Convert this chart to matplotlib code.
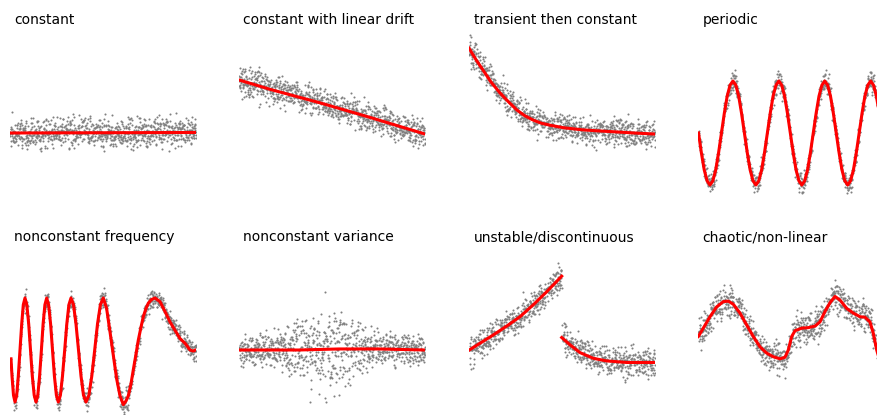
import matplotlib.pyplot as plt
import numpy as np

titles = ["constant", "constant with linear drift", "transient then constant", "periodic",
          "nonconstant frequency", "nonconstant variance", "unstable/discontinuous",
          "chaotic/non-linear"]

# smoothed trend lines (time 0..186, value in units)
const_t = [0, 186]
const_y = [0.0, 0.01]

drift_t = [0, 31, 81, 131, 186]
drift_y = [1.02, 0.84, 0.58, 0.30, -0.02]

trans_t = [0, 7, 14, 22, 31, 40, 48, 56, 64, 72, 81, 95, 114, 130, 148, 165, 186]
trans_y = [1.63, 1.41, 1.21, 0.98, 0.77, 0.59, 0.44, 0.33, 0.25, 0.19, 0.15, 0.10,
           0.06, 0.04, 0.02, 0.0, -0.02]

periodic_y = [0, -0.38, -0.71, -0.92, -1, -0.92, -0.71, -0.38, 0, 0.38, 0.71, 0.92, 1, 0.92, 0.71, 0.38,
              0, -0.38, -0.71, -0.92, -1, -0.92, -0.71, -0.38, 0, 0.38, 0.71, 0.92, 1, 0.92, 0.71, 0.38,
              0, -0.38, -0.71, -0.92, -1, -0.92, -0.71, -0.38, 0, 0.38, 0.71, 0.92, 1, 0.92, 0.71, 0.38,
              0, -0.38, -0.71, -0.92, -1, -0.92, -0.71, -0.38, 0, 0.38, 0.71, 0.92, 1, 0.92, 0.71, 0.38,
              0, -0.38]
periodic_t = np.linspace(0.5, 187, len(periodic_y))

freq_t = [1, 2, 3.5, 5, 6.7, 8.3, 10, 11.7, 13.3, 15, 16.8, 18.7, 20.5, 22.3, 24.2, 26,
          27.8, 29.6, 31.4, 33.1, 34.9, 36.7, 38.6, 40.6, 42.5, 44.4, 46.4, 48.3,
          50.4, 52.5, 54.7, 56.8, 58.9, 61, 63.5, 66, 68.5, 71, 73.5, 76,
          78.9, 81.8, 84.7, 87.5, 90.4, 93.3, 96.6, 100, 103.3, 106.6, 110, 113.3,
          116, 118.3, 121, 123.3, 126, 128.3, 131, 133.3, 136, 138.3, 141.5, 145,
          150, 155, 160, 165, 170, 175, 180, 183.3, 186.7]
freq_y = [-0.17, -0.5, -0.87, -1, -0.87, -0.5, 0, 0.5, 0.87, 1, 0.87, 0.5, 0, -0.5, -0.87, -1,
          -0.87, -0.5, 0, 0.5, 0.87, 1, 0.87, 0.5, 0, -0.5, -0.87, -1,
          -0.87, -0.5, 0, 0.5, 0.87, 1, 0.87, 0.5, 0, -0.5, -0.87, -1,
          -0.87, -0.5, 0, 0.5, 0.87, 1, 0.8, 0.35, -0.1, -0.55, -0.88, -1.05,
          -0.98, -0.88, -0.65, -0.38, -0.08, 0.19, 0.44, 0.64, 0.8, 0.9, 0.97, 1.0,
          0.93, 0.74, 0.54, 0.38, 0.22, 0.13, 0.0, -0.02, 0.01]

var_t = [0, 60, 100, 140, 186]
var_y = [0.0, 0.0, 0.02, 0.02, 0.0]
var_spread_t = [0, 40, 60, 80, 100, 120, 140, 186]
var_spread = [1.0, 1.2, 2.2, 3.2, 3.0, 2.0, 1.2, 1.0]

unst1_t = [0.3, 11, 24.3, 37.7, 51, 64.3, 77.7, 92.7]
unst1_y = [0.0, 0.13, 0.29, 0.46, 0.64, 0.87, 1.12, 1.42]
unst2_t = [92.7, 101, 111, 124.3, 137.7, 157.7, 186]
unst2_y = [0.24, 0.1, -0.05, -0.16, -0.21, -0.24, -0.24]

chaos_t = [0.3, 5.3, 12, 18.7, 25.3, 30.3, 35.3, 42, 48.7, 55.3, 62, 68.7, 75.3, 82, 87,
           90.3, 93.7, 97, 103.7, 110.3, 117, 122, 127, 132, 137, 142, 148.7, 155.3,
           162, 167, 172, 175.3, 178.7, 182]
chaos_y = [0.26, 0.42, 0.64, 0.83, 0.93, 0.94, 0.88, 0.71, 0.48, 0.26, 0.06, -0.06, -0.13,
           -0.17, -0.14, 0.0, 0.26, 0.37, 0.42, 0.43, 0.46, 0.54, 0.74, 0.91, 1.03, 0.96,
           0.8, 0.71, 0.64, 0.63, 0.54, 0.32, 0.0, -0.22]

# scatter of the observations around the trend (tenths of one spread)
resid = [
    3, -8, 12, -2, 7, -15, 1, 9, -4, 18, -11, 0, 6, -7, 14, -3, -19, 8, 2, -10,
    11, -1, 5, -13, 16, -6, 4, -9, 21, -2, -12, 7, 0, 13, -5, -17, 10, 3, -8, 6,
    -14, 9, 1, -3, 15, -20, 4, 12, -7, 2, -11, 8, -1, 17, -6, 5, -9, 24, -4, 0,
    10, -16, 3, 7, -2, -13, 19, -8, 1, 11, -5, 6, -22, 9, -1, 14, -10, 2, -4, 16,
    -7, 5, 12, -15, 0, 8, -3, -18, 13, 4, -9, 1, 20, -6, 7, -12, 3, -2, 10, -14,
    6, -5, 15, -8, 2, -1, 11, -19, 9, 4, -10, 0, 17, -3, -7, 13, 5, -16, 8, -4,
    1, 12, -9, 23, -6, 3, -13, 7, -2, 18, -11, 0, 9, -5, 14, -21, 4, 6, -8, 10,
    -1, -15, 11, 2, -6, 16, -12, 5, -3, 8, -17, 13, 0, -9, 7, 3, -4, 19, -10, 1,
    12, -7, 4, -14, 9, -2, 15, -11, 6, 0, -18, 10, -5, 2, 20, -8, 7, -13, 3, -1,
    11, -6, 16, -3, -10, 5, 8, -20, 13, 1, -7, 14, -4, 9, -12, 2, 17, -9, 0, 6,
    -15, 4, 10, -2, 22, -11, 3, -6, 12, -16, 7, 1, -8, 15, -3, -13, 9, 5, -1, 18,
    -10, 6, -4, 11, -19, 2, 14, -7, 0, 8, -12, 16, -5, 3, -9, 10, -2, -17, 13, 4,
    -6, 21, -14, 7, 1, -3, 12, -8, 5, -11, 9, -1, 15, -18, 2, 6, -10, 11, -4, 0,
    17, -7, 3, -15, 8, -2, 13, -9, 4, 10, -13, 1, -5, 19, -12, 6, -3, 14, -8, 7,
    -1, -16, 11, 2, -6, 9, -20, 5, 16, -4, 0, 12, -11, 3, -7, 8, -14, 10, -2, 4,
]
spread = [0.13, 0.13, 0.12, 0.09, 0.09, 0.12, 0.12, 0.13]
# reading orders of the residual list used by each panel
strides = [(187, 113, 139, 211), (161, 229, 179, 119), (241, 133, 143, 263),
           (199, 77, 251, 103), (217, 49, 71, 89), (97, 127, 157, 173),
           (193, 223, 233, 239), (257, 269, 271, 281)]

panels = [
    [(const_t, const_y)],
    [(drift_t, drift_y)],
    [(trans_t, trans_y)],
    [(periodic_t, periodic_y)],
    [(freq_t, freq_y)],
    [(var_t, var_y)],
    [(unst1_t, unst1_y), (unst2_t, unst2_y)],
    [(chaos_t, chaos_y)],
]

W, H = 878, 415
col_left = [10, 239, 469, 698]
row_zero = [133, 350]
title_base = [24, 241]
unit = 52
ylo, yhi = -1.7, 2.1

fig = plt.figure(figsize=(W / 100, H / 100), dpi=100)

r = np.array(resid) / 10.0
n = len(r)
k = np.arange(n)
ta = np.linspace(0, 186, n)
step = 186 / (n - 1)
for i, segs in enumerate(panels):
    row, col = divmod(i, 4)
    top = row_zero[row] - yhi * unit
    h = (yhi - ylo) * unit
    ax = fig.add_axes([col_left[col] / W, 1 - (top + h) / H, 186 / W, h / H])
    ax.set_xlim(0, 186)
    ax.set_ylim(ylo, yhi)
    ax.axis("off")

    s1, s2, s3, s4 = strides[i]
    t = np.concatenate([ta, ta + step / 3, ta + 2 * step / 3])
    pass_a = r[(k * s1 + 11 * i) % n] + r[(k * s2 + 3) % n]
    pass_b = r[(k * s3 + 29 * i) % n] - r[(k * s4 + 7) % n]
    pass_c = r[(k * s4 + 17 * i + 1) % n] - r[(k * s1 + 13) % n]
    noise = np.concatenate([pass_a, pass_b, pass_c]) * 0.75 * spread[i]
    if i == 5:
        noise = noise * np.interp(t, var_spread_t, var_spread)
    base = np.full(t.shape, np.nan)
    for st, sy in segs:
        m = (t >= st[0]) & (t <= st[-1])
        base[m] = np.interp(t[m], st, sy)
    ax.scatter(t, base + noise, s=2.2, c="grey", linewidths=0, zorder=1)
    for st, sy in segs:
        ax.plot(st, sy, color="red", lw=2.2, zorder=2)

    fig.text((col_left[col] + 4.5) / W, 1 - title_base[row] / H, titles[i],
             fontsize=10, va="baseline", ha="left")

fig.savefig("out.png", dpi=100)
